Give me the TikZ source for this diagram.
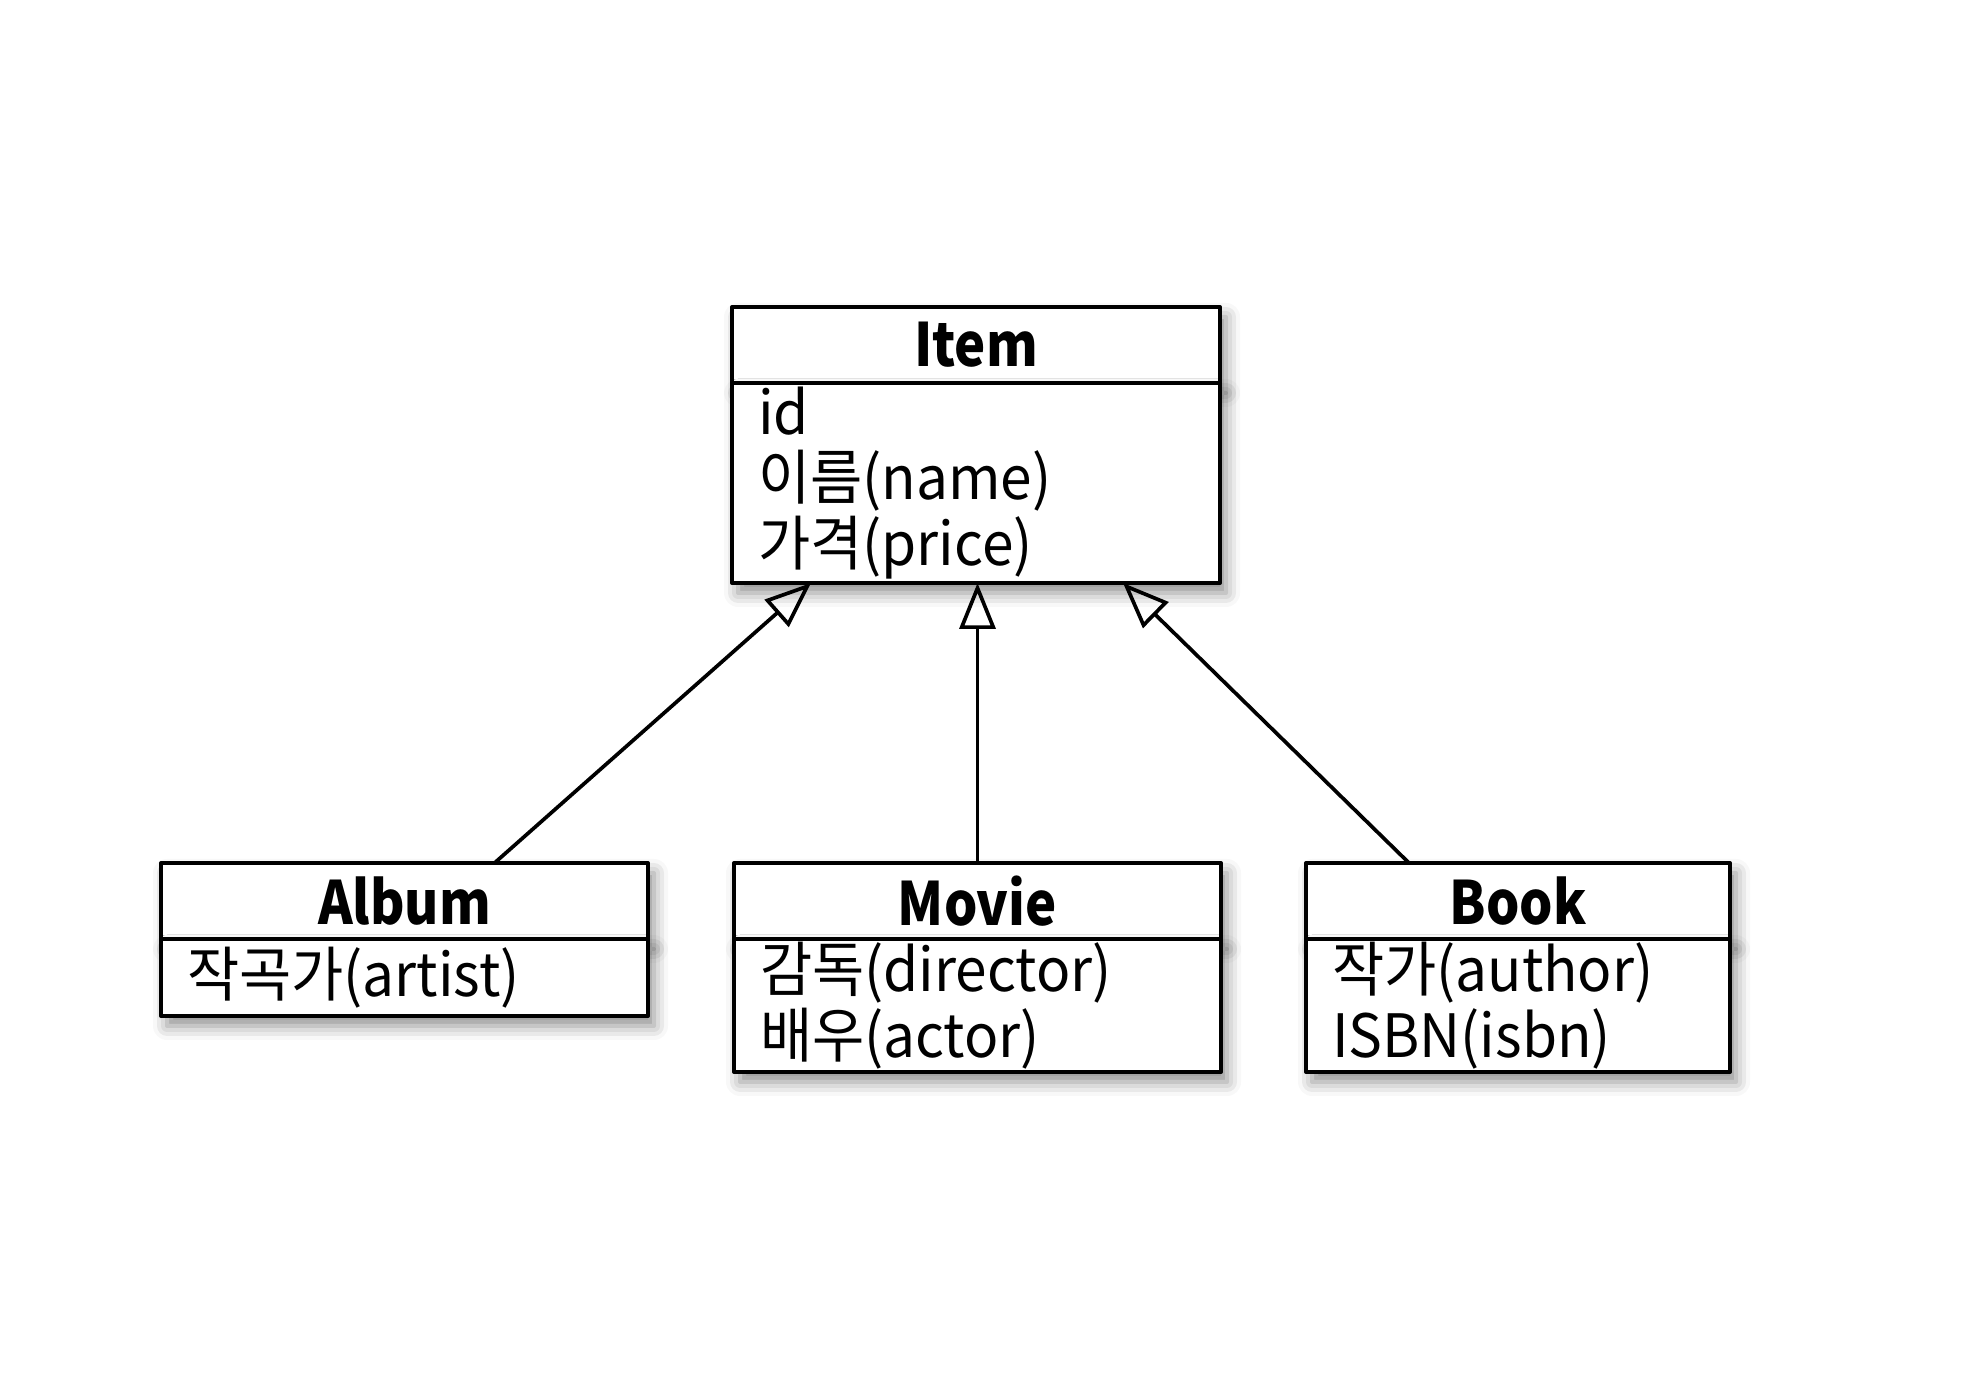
\documentclass[tikz,border=0pt]{standalone}
\usepackage{fontspec}
\setmainfont{Noto Sans CJK KR}[UprightFeatures={FakeStretch=0.95}, BoldFeatures={FakeStretch=0.88}]
\usetikzlibrary{arrows.meta,shadows.blur}

\begin{document}
\begin{tikzpicture}[font=\fontsize{17}{18.7}\selectfont, line join=round, line cap=round, >={Triangle[open,length=4.6mm,width=3.6mm]},
	classhead/.style={draw, fill=white, line width=1.15pt, anchor=north west, minimum height=7.6mm, inner sep=0pt, outer sep=0pt, font=\fontsize{17}{18.7}\selectfont\bfseries, blur shadow={shadow xshift=0.6mm, shadow yshift=-1mm, shadow opacity=45, shadow blur radius=1.4mm}},
	classbody/.style={classhead, font=\fontsize{17}{18.7}\selectfont, align=left, inner xsep=2.6mm, inner ysep=0pt},
	inherit/.style={->, line width=1.05pt}]
	\useasboundingbox (0,0) rectangle (19.78,13.80);
	% superclass
	\node[classhead, minimum width=48.8mm] (item) at (7.32,10.73) {Item};
	\node[classbody, minimum width=48.8mm, minimum height=20mm, text width=43.6mm] (item-b) at (item.south west) {id\\이름(name)\\가격(price)};
	% subclasses
	\node[classhead, minimum width=48.7mm] (album) at (1.61,5.17) {Album};
	\node[classbody, minimum width=48.7mm, minimum height=7.7mm, text width=43.5mm] (album-b) at (album.south west) {작곡가(artist)};
	\node[classhead, minimum width=48.7mm] (movie) at (7.34,5.17) {Movie};
	\node[classbody, minimum width=48.7mm, minimum height=13.3mm, text width=43.5mm] (movie-b) at (movie.south west) {감독(director)\\배우(actor)};
	\node[classhead, minimum width=42.4mm] (book) at (13.06,5.17) {Book};
	\node[classbody, minimum width=42.4mm, minimum height=13.3mm, text width=37.2mm] (book-b) at (book.south west) {작가(author)\\ISBN(isbn)};
	% generalization
	\draw[inherit] ([xshift=9mm]album.north) -- ([xshift=-16.5mm]item-b.south);
	\draw[inherit] (movie.north) -- (movie.north |- item-b.south);
	\draw[inherit] ([xshift=-10.9mm]book.north) -- ([xshift=14.7mm]item-b.south);
\end{tikzpicture}
\end{document}
